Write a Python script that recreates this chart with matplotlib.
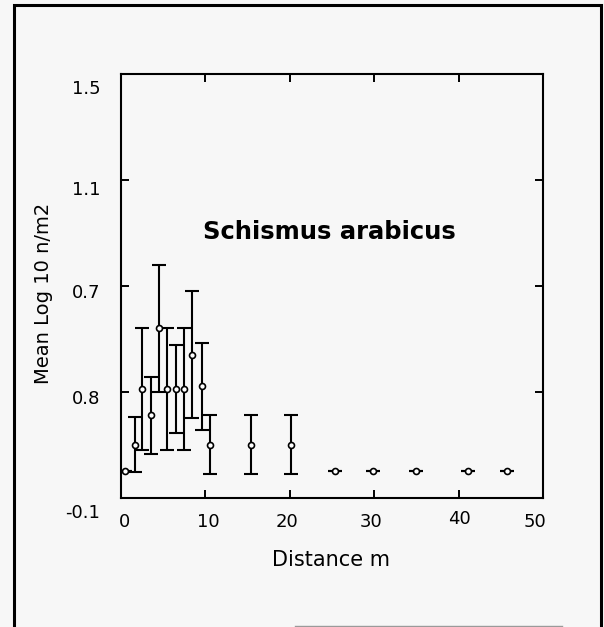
import matplotlib
matplotlib.use('Agg')
import matplotlib.pyplot as plt
from matplotlib.transforms import ScaledTranslation
from matplotlib.patches import Rectangle
from matplotlib.lines import Line2D

# ---- data ----
distance = [0.5, 1.7, 2.5, 3.6, 4.5, 5.5, 6.5, 7.5, 8.4, 9.6, 10.5,
            15.4, 20.1, 25.3, 29.8, 35.0, 41.1, 45.7]
mean_log = [0.0, 0.10, 0.31, 0.21, 0.54, 0.31, 0.31, 0.31, 0.44, 0.32, 0.10,
            0.10, 0.10, 0.0, 0.0, 0.0, 0.0, 0.0]
std_err = [0.0, 0.105, 0.23, 0.145, 0.24, 0.23, 0.167, 0.23, 0.24, 0.165, 0.11,
           0.11, 0.11, 0.0, 0.0, 0.0, 0.0, 0.0]

x_ticks = [0, 10, 20, 30, 40, 50]
x_tick_labels = ['0', '10', '20', '30', '40', '50']
y_ticks = [-0.1, 0.3, 0.7, 1.1, 1.5]
y_tick_labels = ['-0.1', '0.8', '0.7', '1.1', '1.5']

title_text = 'Schismus arabicus'
x_label = 'Distance m'
y_label = 'Mean Log 10 n/m2'

BG = '#f7f7f7'
W, H = 604, 627
fig = plt.figure(figsize=(W / 100, H / 100), dpi=100, facecolor=BG)
plt.rcParams['font.family'] = ['DejaVu Sans']

L, R, T, B = 121, 543, 74, 497.5
ax = fig.add_axes([L / W, 1 - B / H, (R - L) / W, (B - T) / H])
ax.set_facecolor(BG)

ax.errorbar(distance, mean_log, yerr=std_err, fmt='none', ecolor='black',
            elinewidth=1.5, capsize=5, capthick=1.5, zorder=2)
ax.plot(distance, mean_log, linestyle='none', marker='o', markersize=4.3,
        markerfacecolor='white', markeredgecolor='black', markeredgewidth=1.2,
        zorder=3)

ax.set_xlim(0, 50)
ax.set_ylim(-0.1, 1.5)

for s in ax.spines.values():
    s.set_linewidth(1.5)

ax.tick_params(axis='both', direction='in', length=5.5, width=1.4,
               labelsize=13, top=True, right=True)
ax.tick_params(axis='y', pad=15)
ax.tick_params(axis='x', pad=11)

ax.set_xticks(x_ticks, x_tick_labels)
ax.set_yticks(y_ticks, y_tick_labels)

# per-label nudges (pixels) to follow the reference placement
y_shift = {'-0.1': -14, '0.8': -5, '0.7': -5, '1.1': -8, '1.5': -13}
for lab in ax.get_yticklabels():
    dy = y_shift.get(lab.get_text(), 0)
    lab.set_transform(lab.get_transform() +
                      ScaledTranslation(0, dy / 100, fig.dpi_scale_trans))
x_shift = {'0': (4, 0), '10': (3, 0), '20': (-3, 0), '30': (-3, 0),
           '40': (1, 3), '50': (-8, 0)}
for lab in ax.get_xticklabels():
    dx, dy = x_shift.get(lab.get_text(), (0, 0))
    lab.set_transform(lab.get_transform() +
                      ScaledTranslation(dx / 100, dy / 100, fig.dpi_scale_trans))

ax.set_xlabel(x_label, fontsize=15)
ax.xaxis.set_label_coords((331 - L) / (R - L), (B - 550) / (B - T))
ax.set_ylabel(y_label, fontsize=14)
ax.yaxis.set_label_coords((53 - L) / (R - L), (B - 293) / (B - T))

ax.text((329 - L) / (R - L), (B - 231.7) / (B - T), title_text,
        transform=ax.transAxes, ha='center', va='center',
        fontsize=17.5, fontweight='bold')

# outer page frame (open at the bottom)
fig.add_artist(Rectangle((14 / W, -0.05), (601 - 14) / W, 1 - 5 / H + 0.05,
                         transform=fig.transFigure, fill=False,
                         edgecolor='black', linewidth=2.2))
fig.add_artist(Line2D([295 / W, 562 / W], [1.5 / H, 1.5 / H],
                      transform=fig.transFigure, color='#9a9a9a', linewidth=1))

fig.savefig('out.png', dpi=100, facecolor=BG)
